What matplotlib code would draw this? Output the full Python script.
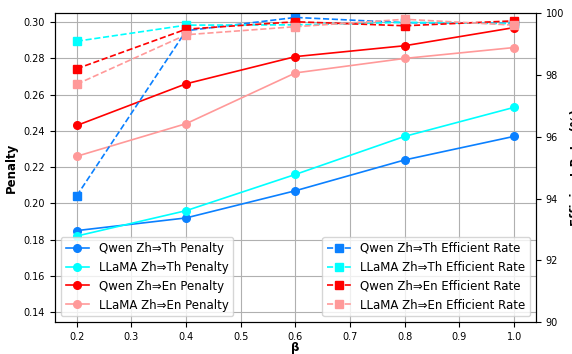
import matplotlib
matplotlib.use("Agg")
import matplotlib.pyplot as plt

beta = [0.2, 0.4, 0.6, 0.8, 1.0]

qwen_th_pen = [0.185, 0.192, 0.207, 0.224, 0.237]
llama_th_pen = [0.182, 0.196, 0.216, 0.237, 0.253]
qwen_en_pen = [0.243, 0.266, 0.281, 0.287, 0.297]
llama_en_pen = [0.226, 0.244, 0.272, 0.280, 0.286]

qwen_th_eff = [94.09, 99.43, 99.86, 99.69, 99.67]
llama_th_eff = [99.09, 99.61, 99.62, 99.70, 99.66]
qwen_en_eff = [98.20, 99.48, 99.72, 99.59, 99.75]
llama_en_eff = [97.70, 99.30, 99.56, 99.80, 99.61]

c_blue = "#0A80FF"
c_cyan = "#00FFFF"
c_red = "#FF0000"
c_pink = "#FF9999"

fig = plt.figure(figsize=(5.72, 3.54), dpi=100)
ax1 = fig.add_axes([0.096, 0.090, 0.841, 0.873])
ax2 = ax1.twinx()

lw = 1.2
ms = 5.5
ax1.plot(beta, qwen_th_pen, "-o", color=c_blue, lw=lw, ms=ms, label="Qwen Zh⇒Th Penalty")
ax1.plot(beta, llama_th_pen, "-o", color=c_cyan, lw=lw, ms=ms, label="LLaMA Zh⇒Th Penalty")
ax1.plot(beta, qwen_en_pen, "-o", color=c_red, lw=lw, ms=ms, label="Qwen Zh⇒En Penalty")
ax1.plot(beta, llama_en_pen, "-o", color=c_pink, lw=lw, ms=ms, label="LLaMA Zh⇒En Penalty")

ax2.plot(beta, qwen_th_eff, "--s", color=c_blue, lw=lw, ms=ms, label="Qwen Zh⇒Th Efficient Rate")
ax2.plot(beta, llama_th_eff, "--s", color=c_cyan, lw=lw, ms=ms, label="LLaMA Zh⇒Th Efficient Rate")
ax2.plot(beta, qwen_en_eff, "--s", color=c_red, lw=lw, ms=ms, label="Qwen Zh⇒En Efficient Rate")
ax2.plot(beta, llama_en_eff, "--s", color=c_pink, lw=lw, ms=ms, label="LLaMA Zh⇒En Efficient Rate")

ax1.set_xlim(0.16, 1.04)
ax1.set_ylim(0.1345, 0.305)
ax2.set_ylim(90, 100)
ax1.set_yticks([0.14, 0.16, 0.18, 0.20, 0.22, 0.24, 0.26, 0.28, 0.30])
ax2.set_yticks([90, 92, 94, 96, 98, 100])
ax1.grid(True, color="#b0b0b0", lw=0.8)

ax1.tick_params(labelsize=7)
ax2.tick_params(labelsize=7)
ax1.set_xlabel("β", fontsize=8.5, fontweight="bold", labelpad=-0.5)
ax1.set_ylabel("Penalty", fontsize=8.5, fontweight="bold")
ax2.set_ylabel("Efficient Rate (%)", fontsize=8.5, fontweight="bold")

ax1.legend(loc="lower left", fontsize=8.5)
ax2.legend(loc="lower right", fontsize=8.5)

fig.savefig("out.png", dpi=100)
